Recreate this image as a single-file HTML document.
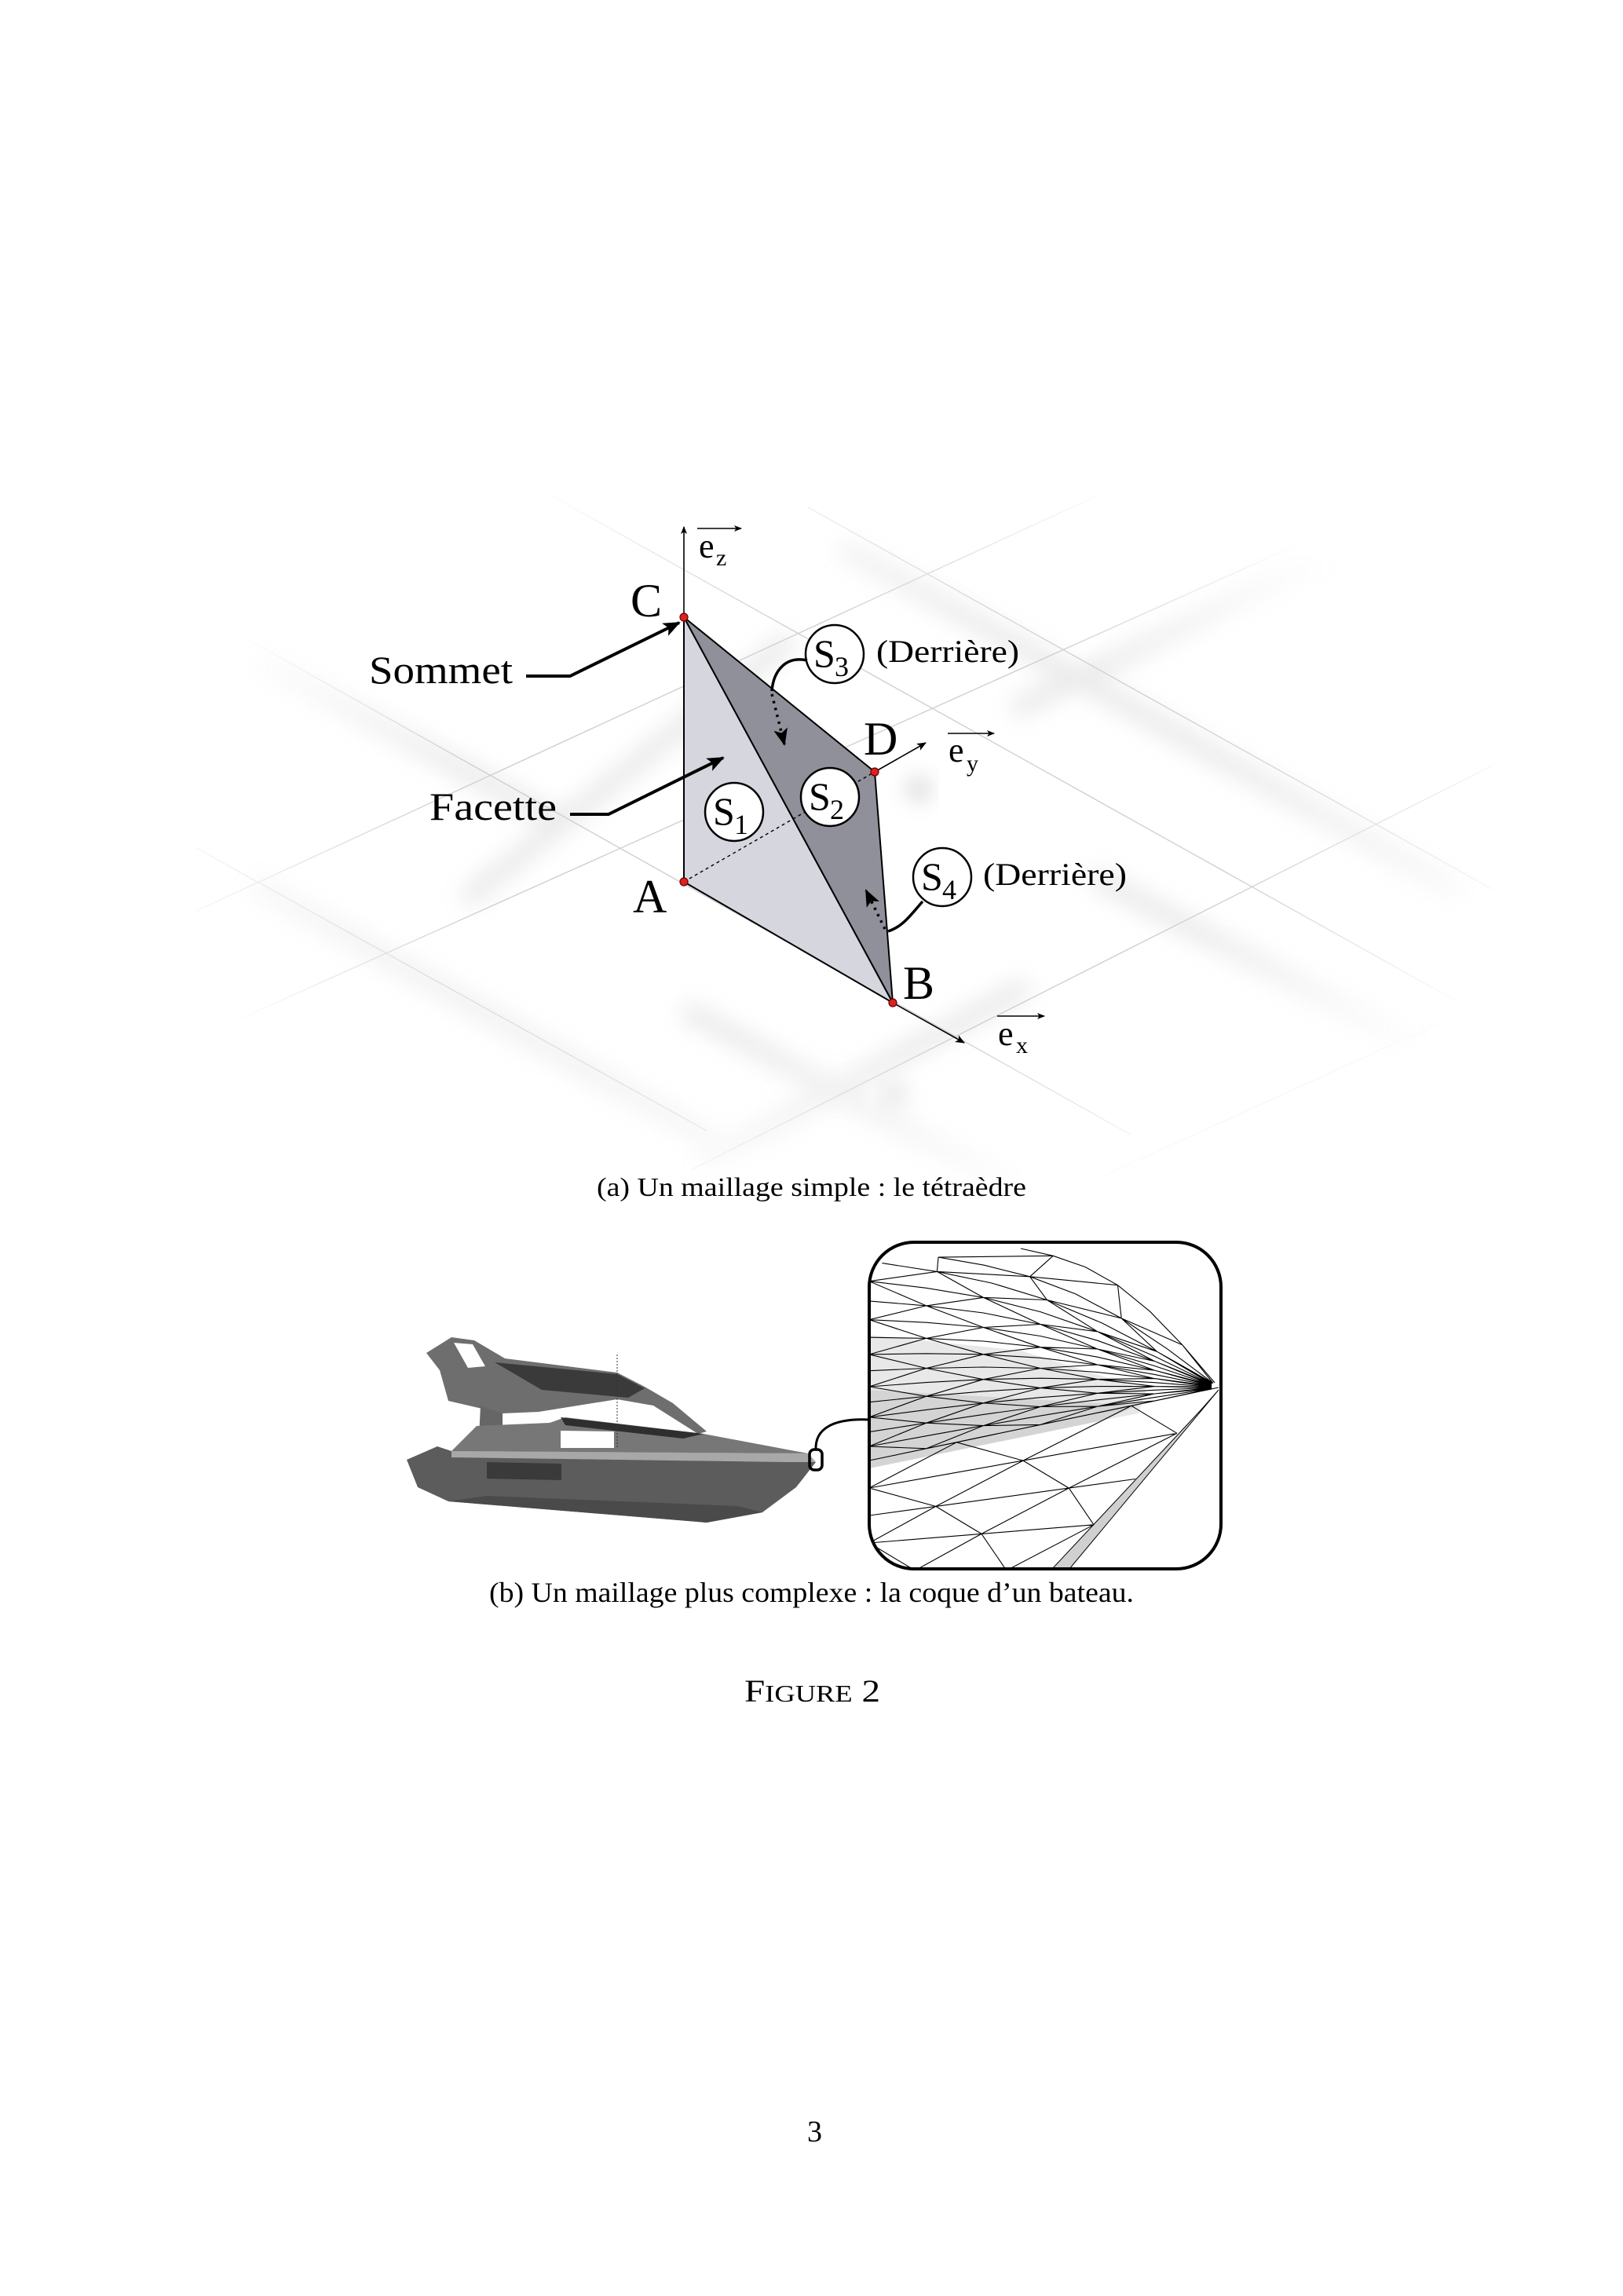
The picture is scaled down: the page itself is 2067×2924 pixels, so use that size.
<!DOCTYPE html>
<html><head><meta charset="utf-8"><style>
html,body{margin:0;padding:0;background:#fff;}
svg{display:block;}
text{font-family:"Liberation Serif",serif;fill:#000;}
</style></head><body>
<svg width="2067" height="2924" viewBox="0 0 2067 2924" xmlns="http://www.w3.org/2000/svg">
<defs>
<filter id="bl" x="-20%" y="-50%" width="140%" height="200%"><feGaussianBlur stdDeviation="14"/></filter>
<radialGradient id="fade" cx="0.5" cy="0.5" r="0.55"><stop offset="0.55" stop-color="#fff"/><stop offset="1" stop-color="#000"/></radialGradient>
<mask id="gm"><rect x="250" y="620" width="1650" height="880" fill="url(#fade)"/></mask>
<marker id="ah" markerWidth="10" markerHeight="8" refX="9" refY="4" orient="auto" markerUnits="userSpaceOnUse"><path d="M0,0 L10,4 L0,8 L2.5,4Z" fill="#000"/></marker>
<marker id="ahb" markerWidth="22" markerHeight="18" refX="20" refY="9" orient="auto" markerUnits="userSpaceOnUse"><path d="M0,0 L22,9 L0,18 L5,9Z" fill="#000"/></marker>
<marker id="ahs" markerWidth="12" markerHeight="10" refX="11" refY="5" orient="auto" markerUnits="userSpaceOnUse"><path d="M0,0 L12,5 L0,10 L3,5Z" fill="#000"/></marker>
<clipPath id="boxclip"><rect x="1107" y="1582" width="448" height="416" rx="57" ry="57"/></clipPath>
</defs>

<g mask="url(#gm)">
 <g stroke="#999" stroke-width="26" stroke-linecap="round" opacity="0.2" filter="url(#bl)" fill="none">
  <line x1="330" y1="1130" x2="900" y2="1450"/>
  <line x1="330" y1="840" x2="700" y2="1040"/>
  <line x1="1080" y1="700" x2="1850" y2="1130"/>
  <line x1="880" y1="1290" x2="1300" y2="1520"/>
  <line x1="1400" y1="1120" x2="1800" y2="1330"/>
  <line x1="600" y1="1140" x2="1000" y2="820"/>
  <line x1="1300" y1="900" x2="1700" y2="700"/>
  <line x1="900" y1="1480" x2="1300" y2="1260"/>
 </g>
 <g fill="#777" opacity="0.35" filter="url(#bl)">
  <circle cx="1140" cy="1395" r="14"/><circle cx="1170" cy="1005" r="14"/>
 </g>
 <g stroke="#d0d0d0" stroke-width="1.4" fill="none">
  <line x1="1029" y1="646" x2="1950" y2="1160"/>
  <line x1="292" y1="801" x2="1440" y2="1445"/>
  <line x1="250" y1="1080" x2="900" y2="1440"/>
  <line x1="700" y1="630" x2="1900" y2="1300"/>
  <line x1="1950" y1="950" x2="880" y2="1490"/>
  <line x1="1750" y1="650" x2="300" y2="1300"/>
  <line x1="1400" y1="630" x2="250" y2="1160"/>
  <line x1="1950" y1="1250" x2="1400" y2="1500"/>
 </g>
</g>

<polygon points="871,786 871,1123 1137,1277" fill="#d5d6de" stroke="#000" stroke-width="2"/>
<polygon points="871,786 1114,983 1137,1277" fill="#8f9099" stroke="#000" stroke-width="2"/>
<line x1="871" y1="1123" x2="1114" y2="983" stroke="#000" stroke-width="1.4" stroke-dasharray="4,4"/>
<line x1="871" y1="786" x2="871" y2="671" stroke="#000" stroke-width="1.6" marker-end="url(#ah)"/>
<line x1="1114" y1="983" x2="1179" y2="946" stroke="#000" stroke-width="1.6" marker-end="url(#ahs)"/>
<line x1="1137" y1="1277" x2="1228" y2="1328" stroke="#000" stroke-width="1.6" marker-end="url(#ahs)"/>
<g fill="#e02020" stroke="#600" stroke-width="1.2">
 <circle cx="871" cy="786" r="5"/><circle cx="871" cy="1123" r="5"/><circle cx="1137" cy="1277" r="5"/><circle cx="1114" cy="983" r="5"/>
</g>

<line x1="888" y1="673" x2="944" y2="673" stroke="#000" stroke-width="1.5" marker-end="url(#ah)"/>
<text x="890" y="710" font-size="44">e</text><text x="912" y="720" font-size="30">z</text>
<line x1="1207" y1="934" x2="1266" y2="934" stroke="#000" stroke-width="1.5" marker-end="url(#ah)"/>
<text x="1208" y="970" font-size="44">e</text><text x="1231" y="982" font-size="30">y</text>
<line x1="1270" y1="1294" x2="1330" y2="1294" stroke="#000" stroke-width="1.5" marker-end="url(#ah)"/>
<text x="1271" y="1331" font-size="44">e</text><text x="1294" y="1341" font-size="30">x</text>

<text x="803" y="785" font-size="60">C</text>
<text x="806" y="1162" font-size="60">A</text>
<text x="1150" y="1272" font-size="60">B</text>
<text x="1100" y="961" font-size="60">D</text>

<text x="470" y="870" font-size="50" textLength="183" lengthAdjust="spacingAndGlyphs">Sommet</text>
<polyline points="670,861 726,861 865,793" fill="none" stroke="#000" stroke-width="4" marker-end="url(#ahb)"/>
<text x="547" y="1044" font-size="50" textLength="162" lengthAdjust="spacingAndGlyphs">Facette</text>
<polyline points="726,1037 775,1037 921,965" fill="none" stroke="#000" stroke-width="4" marker-end="url(#ahb)"/>

<g fill="#fff" stroke="#000" stroke-width="2.5">
 <circle cx="935" cy="1034" r="37"/><circle cx="1057" cy="1015" r="37"/>
 <circle cx="1063" cy="833" r="37"/><circle cx="1200" cy="1117" r="37"/>
</g>
<text x="908" y="1050" font-size="50">S</text><text x="935" y="1062" font-size="36">1</text>
<text x="1030" y="1031" font-size="50">S</text><text x="1057" y="1043" font-size="36">2</text>
<text x="1036" y="849" font-size="50">S</text><text x="1063" y="861" font-size="36">3</text>
<text x="1173" y="1133" font-size="50">S</text><text x="1200" y="1145" font-size="36">4</text>
<text x="1116" y="843" font-size="40" textLength="182" lengthAdjust="spacingAndGlyphs">(Derrière)</text>
<text x="1252" y="1127" font-size="40" textLength="183" lengthAdjust="spacingAndGlyphs">(Derrière)</text>

<path d="M1028,841 C1000,835 985,855 983,880" fill="none" stroke="#000" stroke-width="3.5"/>
<path d="M983,884 L999,948" fill="none" stroke="#000" stroke-width="3.5" stroke-dasharray="3,6" marker-end="url(#ahb)"/>
<path d="M1175,1148 C1160,1165 1150,1180 1131,1186" fill="none" stroke="#000" stroke-width="3.5"/>
<path d="M1127,1183 L1103,1134" fill="none" stroke="#000" stroke-width="3.5" stroke-dasharray="3,6" marker-end="url(#ahb)"/>

<text x="760" y="1523" font-size="34" textLength="547" lengthAdjust="spacingAndGlyphs">(a) Un maillage simple : le tétraèdre</text>

<g>
 <polygon points="543,1723 575,1703 604,1707 643,1730 786,1748 821,1766 857,1787 900,1823 889,1826 832,1790 786,1782 686,1798 640,1800 571,1784 560,1745" fill="#6e6e6e"/>
 <polygon points="578,1710 602,1712 618,1740 596,1742" fill="#fff"/>
 <polygon points="630,1735 786,1750 821,1768 800,1780 690,1770" fill="#3a3a3a"/>
 <polygon points="612,1790 640,1800 640,1830 610,1830" fill="#666"/>
 <polygon points="607,1816 700,1812 720,1805 896,1826 1029,1851 575,1848" fill="#777"/>
 <polygon points="714,1805 896,1826 870,1832 720,1815" fill="#2e2e2e"/>
 <polygon points="714,1822 782,1823 782,1844 714,1844" fill="#fff"/>
 <polygon points="518,1859 557,1842 575,1848 1029,1851 1039,1862 1014,1894 971,1926 900,1939 571,1912 532,1894" fill="#5c5c5c"/>
 <polygon points="575,1848 1029,1851 1039,1862 1000,1862 575,1856" fill="#a8a8a8"/>
 <polygon points="620,1862 715,1864 715,1885 620,1883" fill="#3a3a3a"/>
 <polygon points="571,1912 900,1939 971,1926 940,1918 620,1905" fill="#4a4a4a"/>
 <line x1="786" y1="1725" x2="786" y2="1845" stroke="#333" stroke-width="1" stroke-dasharray="2,2"/>
</g>
<path d="M1107,1808 C1060,1806 1038,1820 1039,1846" fill="none" stroke="#000" stroke-width="3"/>
<rect x="1031" y="1846" width="16" height="26" rx="6" fill="none" stroke="#000" stroke-width="3.5"/>

<g clip-path="url(#boxclip)">
 <rect x="1107" y="1582" width="448" height="416" fill="#fff"/>
 <polygon points="1107,1700 1300,1720 1460,1770 1450,1800 1107,1865" fill="#e8e8e8"/>
 <polygon points="1107,1770 1450,1790 1400,1810 1107,1870" fill="#d4d4d4"/>
 <polygon points="1340,1998 1362,1998 1552,1770 1530,1795" fill="#d0d0d0" stroke="#000" stroke-width="1"/>
 <g id="mesh" stroke="#000" stroke-width="1.1" fill="none"></g>
</g>
<rect x="1107" y="1582" width="448" height="416" rx="57" ry="57" fill="none" stroke="#000" stroke-width="4"/>

<text x="623" y="2040" font-size="36" textLength="821" lengthAdjust="spacingAndGlyphs">(b) Un maillage plus complexe : la coque d’un bateau.</text>
<text x="948" y="2167" font-size="40" textLength="173" lengthAdjust="spacingAndGlyphs">F<tspan font-size="31">IGURE</tspan> 2</text>
<text x="1028" y="2727" font-size="38">3</text>
</svg>
<script>
(function(){
var g=document.getElementById('mesh'),ns='http://www.w3.org/2000/svg',d='';
var N=[1552,1767];
function L(v){
  if(v<0.25){var t=v/0.25;return [1300-190*t,1590+20*t];}
  var t=(v-0.25)/0.75;return [1107,1610+250*t];
}
function P(u,v){var l=L(v);var uu=u;
  var bulge=(1-v)*Math.sin(Math.PI*u)*(-40);
  return [l[0]+(N[0]-l[0])*uu,l[1]+(N[1]-l[1])*uu+bulge];}
var vs=[],us=[];
var nv=14;for(var i=0;i<=nv;i++){var v=i/nv;vs.push(Math.pow(v,0.75));}
var nu=6;for(var j=0;j<=nu;j++)us.push(j/nu*0.98);
vs.forEach(function(v){d+='M';us.forEach(function(u,k){var p=P(u,v);d+=(k?' L':'')+p[0].toFixed(1)+','+p[1].toFixed(1);});});
for(var j=0;j<us.length-1;j++){for(var i=0;i<vs.length-1;i++){
 var a,b;
 if((i+j)%2){a=P(us[j],vs[i]);b=P(us[j+1],vs[i+1]);}else{a=P(us[j+1],vs[i]);b=P(us[j],vs[i+1]);}
 d+='M'+a[0].toFixed(1)+','+a[1].toFixed(1)+' L'+b[0].toFixed(1)+','+b[1].toFixed(1);}}
function Q(u,w){
  var l=[1107,1860+140*w];var r=[N[0]+(1340-N[0])*w,N[1]+(2000-N[1])*w];
  return [l[0]+(r[0]-l[0])*u,l[1]+(r[1]-l[1])*u];}
for(var i=0;i<=4;i++){d+='M';for(var k=0;k<=4;k++){var p=Q(k/4,i/4);d+=(k?' L':'')+p[0].toFixed(1)+','+p[1].toFixed(1);}}
for(var i=0;i<4;i++)for(var k=0;k<4;k++){var a,b;
 if((i+k)%2){a=Q(k/4,i/4);b=Q((k+1)/4,(i+1)/4);}else{a=Q((k+1)/4,i/4);b=Q(k/4,(i+1)/4);}
 d+='M'+a[0].toFixed(1)+','+a[1].toFixed(1)+' L'+b[0].toFixed(1)+','+b[1].toFixed(1);}
var p=document.createElementNS(ns,'path');p.setAttribute('d',d);g.appendChild(p);
})();
</script>
</body></html>
